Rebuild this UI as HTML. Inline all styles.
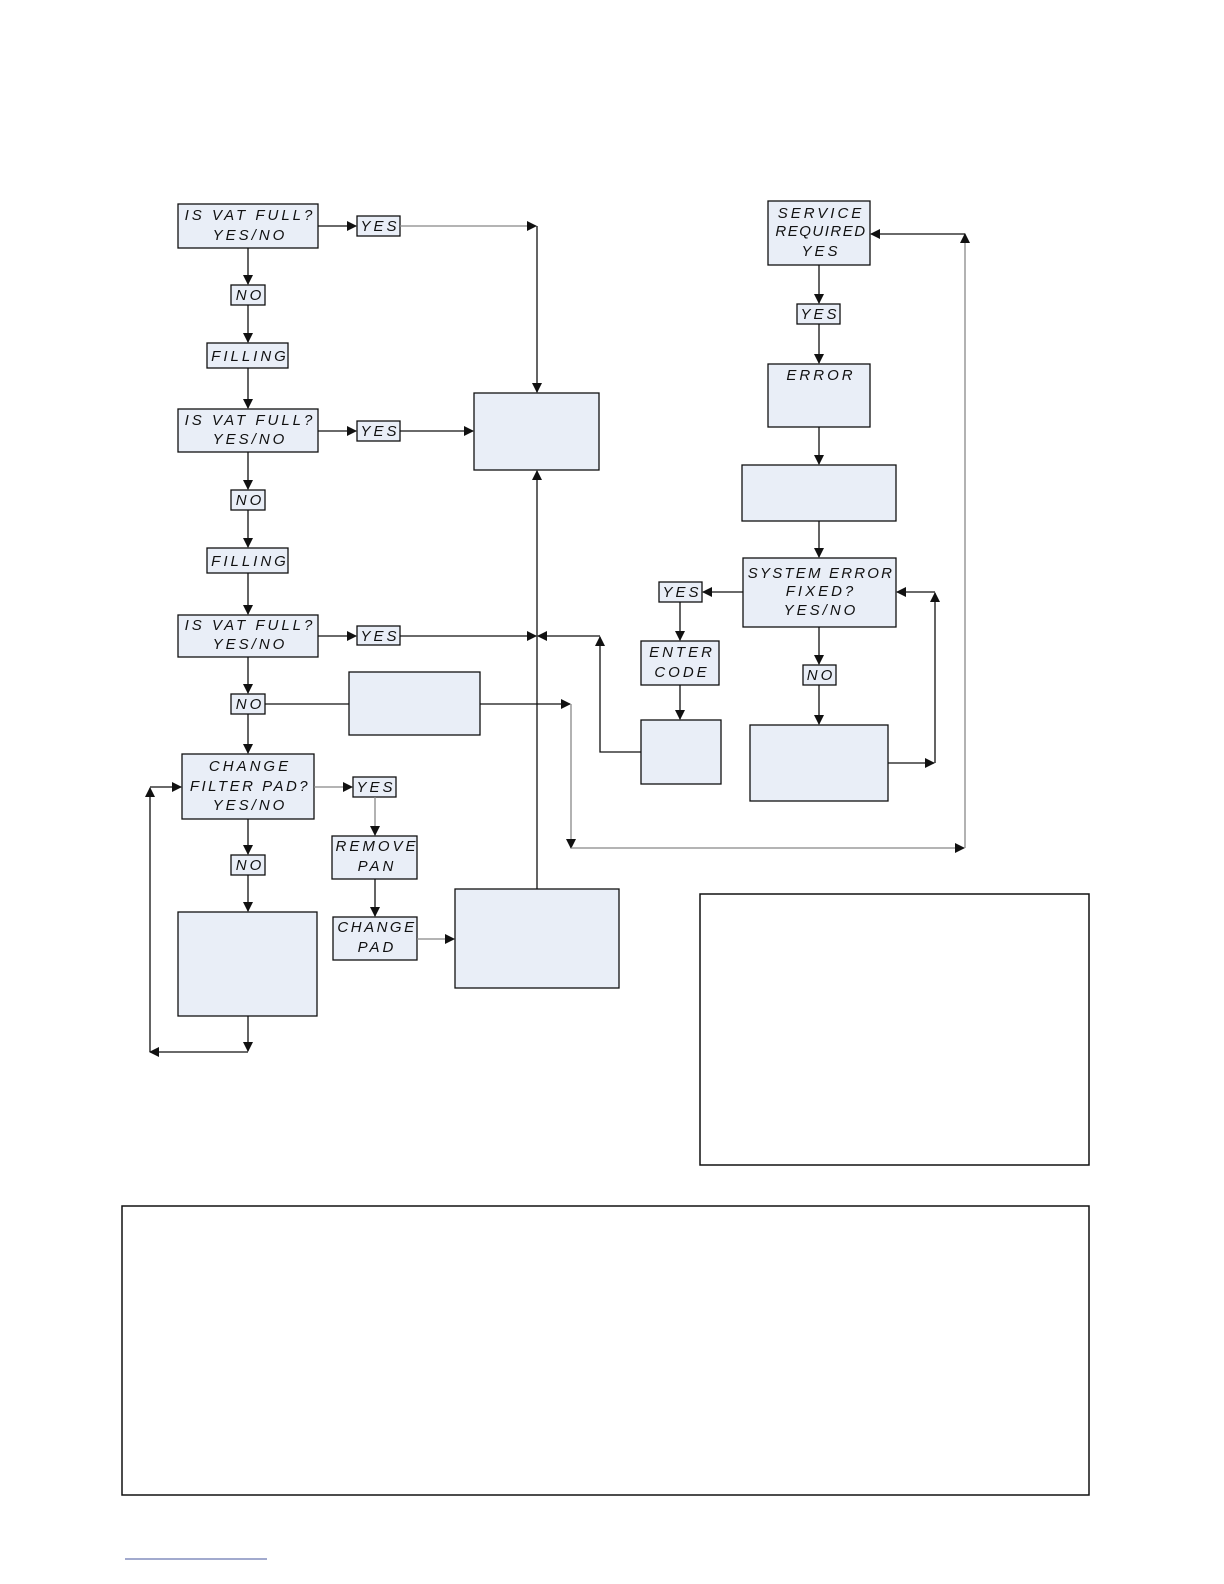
<!DOCTYPE html>
<html><head><meta charset="utf-8"><style>
html,body{margin:0;padding:0;background:#fff;width:1224px;height:1584px;overflow:hidden;}
svg{display:block;position:absolute;left:0;top:0;}
text{font-family:"Liberation Sans",sans-serif;font-style:italic;font-size:15px;letter-spacing:3px;fill:#111;text-anchor:middle;}
.b{fill:#e9eef7;stroke:#111;stroke-width:1.3;}
.l{stroke:#111;stroke-width:1.3;fill:none;}
.g{stroke:#888;stroke-width:1.3;fill:none;}
</style></head><body>
<svg width="1224" height="1584" viewBox="0 0 1224 1584">
<defs><marker id="a" markerWidth="10" markerHeight="10" refX="9" refY="5" orient="auto" markerUnits="userSpaceOnUse"><path d="M0,0 L10,5 L0,10 z" fill="#111"/></marker></defs>
<g class="b">
<rect x="178" y="204" width="140" height="44"/>
<rect x="357" y="216" width="43" height="20"/>
<rect x="231" y="285" width="34" height="20"/>
<rect x="207" y="343" width="81" height="25"/>
<rect x="178" y="409" width="140" height="43"/>
<rect x="357" y="421" width="43" height="20"/>
<rect x="231" y="490" width="34" height="20"/>
<rect x="207" y="548" width="81" height="25"/>
<rect x="178" y="615" width="140" height="42"/>
<rect x="357" y="626" width="43" height="19"/>
<rect x="231" y="694" width="34" height="20"/>
<rect x="349" y="672" width="131" height="63"/>
<rect x="182" y="754" width="132" height="65"/>
<rect x="353" y="777" width="43" height="20"/>
<rect x="231" y="855" width="34" height="20"/>
<rect x="332" y="836" width="85" height="43"/>
<rect x="333" y="917" width="84" height="43"/>
<rect x="178" y="912" width="139" height="104"/>
<rect x="455" y="889" width="164" height="99"/>
<rect x="474" y="393" width="125" height="77"/>
<rect x="768" y="201" width="102" height="64"/>
<rect x="797" y="304" width="43" height="20"/>
<rect x="768" y="364" width="102" height="63"/>
<rect x="742" y="465" width="154" height="56"/>
<rect x="743" y="558" width="153" height="69"/>
<rect x="659" y="582" width="43" height="20"/>
<rect x="641" y="641" width="78" height="44"/>
<rect x="641" y="720" width="80" height="64"/>
<rect x="803" y="665" width="33" height="20"/>
<rect x="750" y="725" width="138" height="76"/>
</g>
<rect x="700" y="894" width="389" height="271" fill="none" stroke="#111" stroke-width="1.5"/>
<rect x="122" y="1206" width="967" height="289" fill="none" stroke="#111" stroke-width="1.5"/>
<line x1="125" y1="1559" x2="267" y2="1559" stroke="#6a78b0" stroke-width="1.3"/>
<g class="l">
<path d="M318 226H356" marker-end="url(#a)"/>
<path d="M400 226H536" class="g" marker-end="url(#a)"/>
<path d="M537 226V392" marker-end="url(#a)"/>
<path d="M248 248V284" marker-end="url(#a)"/>
<path d="M248 305V342" marker-end="url(#a)"/>
<path d="M248 368V408" marker-end="url(#a)"/>
<path d="M318 431H356" marker-end="url(#a)"/>
<path d="M400 431H473" marker-end="url(#a)"/>
<path d="M248 452V489" marker-end="url(#a)"/>
<path d="M248 510V547" marker-end="url(#a)"/>
<path d="M248 573V614" marker-end="url(#a)"/>
<path d="M318 636H356" marker-end="url(#a)"/>
<path d="M400 636H536" marker-end="url(#a)"/>
<path d="M537 889V471" marker-end="url(#a)"/>
<path d="M600 636H538" marker-end="url(#a)"/>
<path d="M641 752H600V637" marker-end="url(#a)"/>
<path d="M248 657V693" marker-end="url(#a)"/>
<path d="M265 704H349"/>
<path d="M480 704H570" marker-end="url(#a)"/>
<path d="M571 704V848" class="g" marker-end="url(#a)"/>
<path d="M571 848H964" class="g" marker-end="url(#a)"/>
<path d="M965 848V234" class="g" marker-end="url(#a)"/>
<path d="M965 234H871" marker-end="url(#a)"/>
<path d="M248 714V753" marker-end="url(#a)"/>
<path d="M314 787H352" class="g" marker-end="url(#a)"/>
<path d="M375 797V835" class="g" marker-end="url(#a)"/>
<path d="M375 879V916" marker-end="url(#a)"/>
<path d="M417 939H454" class="g" marker-end="url(#a)"/>
<path d="M248 819V854" marker-end="url(#a)"/>
<path d="M248 875V911" marker-end="url(#a)"/>
<path d="M248 1016V1051" marker-end="url(#a)"/>
<path d="M248 1052H150" marker-end="url(#a)"/>
<path d="M150 1052V788" marker-end="url(#a)"/>
<path d="M150 787H181" marker-end="url(#a)"/>
<path d="M819 265V303" marker-end="url(#a)"/>
<path d="M819 324V363" marker-end="url(#a)"/>
<path d="M819 427V464" marker-end="url(#a)"/>
<path d="M819 521V557" marker-end="url(#a)"/>
<path d="M819 627V664" marker-end="url(#a)"/>
<path d="M819 685V724" marker-end="url(#a)"/>
<path d="M743 592H703" marker-end="url(#a)"/>
<path d="M680 602V640" marker-end="url(#a)"/>
<path d="M680 685V719" marker-end="url(#a)"/>
<path d="M888 763H934" marker-end="url(#a)"/>
<path d="M935 763V593" marker-end="url(#a)"/>
<path d="M935 592H897" marker-end="url(#a)"/>
</g>
<g>
<text x="250" y="220">IS VAT FULL?</text><text x="250" y="240">YES/NO</text>
<text x="380" y="231">YES</text>
<text x="250" y="300">NO</text>
<text x="250" y="361">FILLING</text>
<text x="250" y="425">IS VAT FULL?</text><text x="250" y="444">YES/NO</text>
<text x="380" y="436">YES</text>
<text x="250" y="505">NO</text>
<text x="250" y="566">FILLING</text>
<text x="250" y="630">IS VAT FULL?</text><text x="250" y="649">YES/NO</text>
<text x="380" y="641">YES</text>
<text x="250" y="709">NO</text>
<text x="250" y="771">CHANGE</text><text x="250" y="791" style="letter-spacing:2.5px">FILTER PAD?</text><text x="250" y="810">YES/NO</text>
<text x="376" y="792">YES</text>
<text x="250" y="870">NO</text>
<text x="377" y="851">REMOVE</text><text x="377" y="871">PAN</text>
<text x="377" y="932" style="letter-spacing:2.5px">CHANGE</text><text x="377" y="952">PAD</text>
<text x="821" y="218">SERVICE</text><text x="821" y="236" style="letter-spacing:1.5px">REQUIRED</text><text x="821" y="256">YES</text>
<text x="820" y="319">YES</text>
<text x="821" y="380">ERROR</text>
<text x="821" y="578" style="letter-spacing:2.2px">SYSTEM ERROR</text><text x="821" y="596">FIXED?</text><text x="821" y="615">YES/NO</text>
<text x="682" y="597">YES</text>
<text x="682" y="657">ENTER</text><text x="682" y="677">CODE</text>
<text x="821" y="680">NO</text>
</g>
</svg>
</body></html>
